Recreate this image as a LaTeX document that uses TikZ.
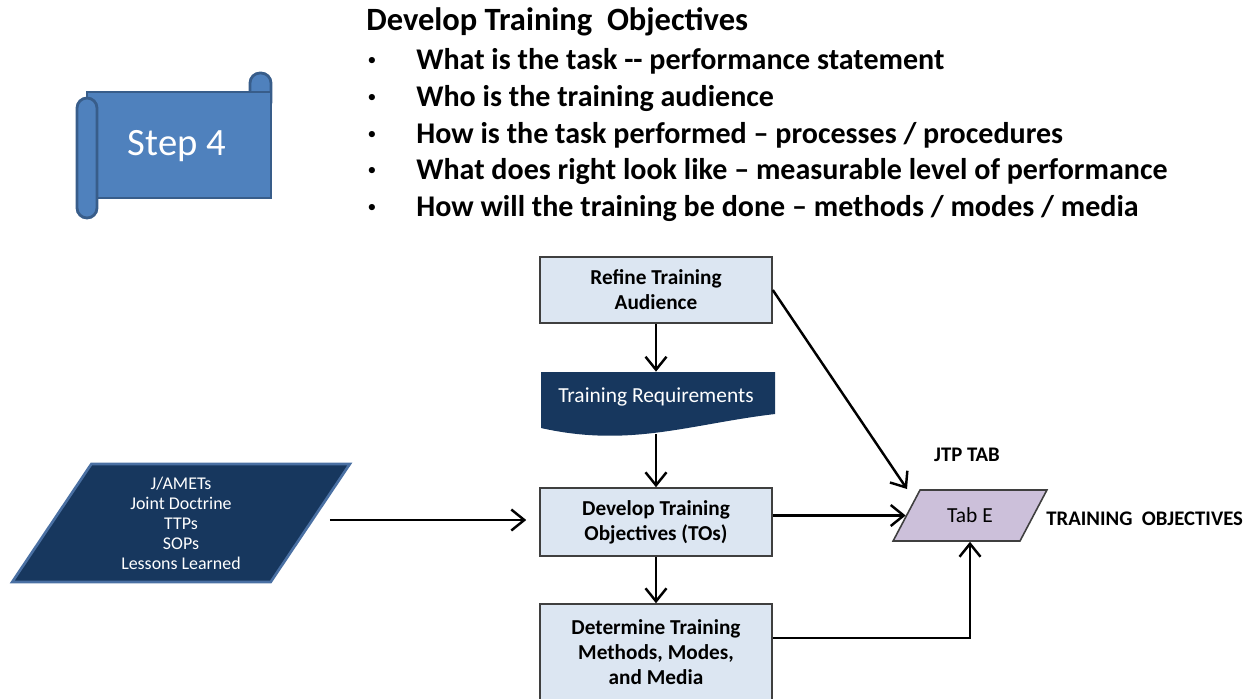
\documentclass[tikz,border=0pt]{standalone}
\usepackage{fontspec}
\setmainfont{Carlito}
\usetikzlibrary{positioning}
\usetikzlibrary{shapes.geometric, arrows.meta}
\definecolor{scrollfill}{HTML}{4F81BD}
\definecolor{scrolledge}{HTML}{385D8A}
\definecolor{boxfill}{HTML}{DCE6F2}
\definecolor{boxedge}{HTML}{3F3F3F}
\definecolor{navy}{HTML}{17375E}
\definecolor{navyedge}{HTML}{4A70A3}
\definecolor{tabfill}{HTML}{CCC0DA}

\begin{document}
\begin{tikzpicture}[x=0.02cm,y=-0.02cm,
  scroll/.style={fill=scrollfill,draw=scrolledge,line width=1.6pt},
  process/.style={rectangle,draw=boxedge,line width=0.9pt,fill=boxfill,minimum width=4.64cm,align=center,text=black,font=\bfseries\fontsize{12.1}{14.2}\selectfont},
  source/.style={trapezium,trapezium left angle=61,trapezium right angle=119,trapezium stretches=true,fill=navy,draw=navyedge,line width=1.5pt,text=white,align=center,font=\fontsize{10.2}{11.4}\selectfont},
  tabbox/.style={trapezium,trapezium left angle=60,trapezium right angle=120,trapezium stretches=true,fill=tabfill,draw=boxedge,line width=0.9pt,font=\fontsize{12.2}{14}\selectfont},
  flow/.style={line width=1.4pt,-{Straight Barb[length=2.6mm,width=4.2mm]}},
  heading/.style={font=\bfseries\fontsize{17.1}{20}\selectfont,text=black,anchor=west,inner sep=0pt},
  dot/.style={font=\fontsize{10}{12}\selectfont,text=black,inner sep=0pt},
  caption/.style={font=\bfseries\fontsize{11.8}{14}\selectfont,text=black,inner sep=0pt}]
\useasboundingbox (0,0) rectangle (1247,698);

\draw[scroll,rounded corners=0.2cm] (250,73) rectangle (271,112);
\draw[scroll] (87,92) rectangle (271,198);
\draw[scroll,rounded corners=0.2cm] (77,98) rectangle (97,218);
\node[font=\fontsize{22}{26}\selectfont,text=white] (step) at (177,146) {Step 4};

\node[heading,font=\bfseries\fontsize{18.5}{22}\selectfont] (title) at (366,22) {Develop Training\ \ Objectives};
\node[dot] (b1) at (372,61) {\textbullet};
\node[heading] (l1) at (416,61) {What is the task {-}{-} performance statement};
\node[dot] (b2) at (372,98) {\textbullet};
\node[heading] (l2) at (416,98) {Who is the training audience};
\node[dot] (b3) at (372,135) {\textbullet};
\node[heading] (l3) at (416,135) {How is the task performed -- processes / procedures};
\node[dot] (b4) at (372,171) {\textbullet};
\node[heading] (l4) at (416,171) {What does right look like -- measurable level of performance};
\node[dot] (b5) at (372,208) {\textbullet};
\node[heading] (l5) at (416,208) {How will the training be done -- methods / modes / media};

\node[process,minimum height=1.32cm] (refine) at (656,290) {Refine Training\\Audience};
\fill[navy] (541,372) -- (775,372) -- (775,414) .. controls (690,424) and (630,448) .. (541,428) -- cycle;
\node[font=\fontsize{12.2}{14}\selectfont,text=white,minimum width=4.68cm,minimum height=1cm] (req) at (656,397) {Training Requirements};
\coordinate (reqbot) at (656,434);
\node[process,minimum height=1.36cm] (develop) at (656,522) {Develop Training\\Objectives (TOs)};
\node[process,minimum height=1.92cm] (determine) at (656,652) {Determine Training\\Methods, Modes,\\and Media};

\node[source,minimum width=6.76cm,minimum height=2.36cm] (src) at (181,523) {J/AMETs\\Joint Doctrine\\TTPs\\SOPs\\Lessons Learned};
\node[tabbox,minimum width=3.08cm,minimum height=1.02cm] (tabE) at (970,515.5) {Tab E};
\coordinate (tabtip) at (907,489);
\node[caption] (jtp) at (967,455) {JTP TAB};
\node[caption,anchor=west] (tos) at (1046,519) {TRAINING\ \ OBJECTIVES};

\draw[flow] (refine.south) -- (req.north);
\draw[flow] (reqbot) -- (develop.north);
\draw[flow] (develop.south) -- (determine.north);
\draw[flow,shorten <=0.36cm,shorten >=0.26cm] (src.east |- 0,520) -- (develop.west |- 0,520);
\draw[flow] (develop.east |- tabE.west) -- (tabE.west);
\draw[flow] (refine.east) -- (tabtip);
\draw[flow] ([yshift=0.28cm]determine.east) -| (tabE.south);

\end{tikzpicture}
\end{document}
